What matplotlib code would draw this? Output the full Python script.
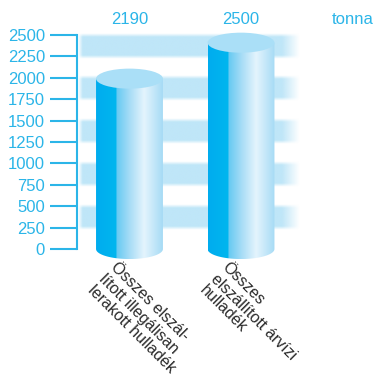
import numpy as np
import matplotlib.pyplot as plt
from matplotlib.colors import LinearSegmentedColormap, to_rgb
from matplotlib.patches import Polygon, Ellipse

plt.rcParams['font.family'] = ['Liberation Sans', 'DejaVu Sans']

# data
categories = ["Összes elszál-\nlított illegálisan\nlerakott hulladék",
              "Összes\nelszállított árvízi\nhulladék"]
value_labels = ["2190", "2500"]
bar_heights = [1990, 2410]          # drawn cylinder heights
yticks = [0, 250, 500, 750, 1000, 1250, 1500, 1750, 2000, 2250, 2500]
bands = [(250, 500), (750, 1000), (1250, 1500), (1750, 2000), (2250, 2500)]
unit = "tonna"

cyan = "#2bb5e8"
band_col = "#bfe6f8"

fig = plt.figure(figsize=(3.77, 3.74), dpi=100)
ax = fig.add_axes([0.2042, 0.2655, 0.7958, 0.6639])
ax.set_xlim(-0.4709, 2.2197)
ax.set_ylim(-300, 2600)

# soft horizontal bands
bx0, bx1 = -0.46, 1.53
for lo, hi in bands:
    ny, nx = 40, 300
    yy = np.linspace(0, 1, ny)
    xx = np.linspace(0, 1, nx)
    ay = np.clip(np.minimum(yy, 1 - yy) / 0.14, 0, 1)
    ax_ = np.clip(np.minimum(xx / 0.02, (1 - xx) / 0.08), 0, 1)
    alpha = ay[:, None] * ax_[None, :]
    img = np.zeros((ny, nx, 4))
    img[..., :3] = to_rgb(band_col)
    img[..., 3] = alpha
    pad = 25
    ax.imshow(img, extent=(bx0, bx1, lo - pad, hi + pad), aspect='auto',
              zorder=1, interpolation='bilinear')

# cylinders
grad = LinearSegmentedColormap.from_list("cyl", [
    (0.0, "#00acee"), (0.30, "#00b6ef"), (0.31, "#66caf2"),
    (0.50, "#a6dcf6"), (0.72, "#e4f4fd"), (1.0, "#a6dbf5")])
w = 0.60
eh = 234
t = np.linspace(np.pi, 2 * np.pi, 60)
for i, h in enumerate(bar_heights):
    x0, x1 = i - w / 2, i + w / 2
    bottom = np.column_stack([i + w / 2 * np.cos(t), eh / 2 * np.sin(t)])
    verts = np.vstack([bottom, [[x1, h], [x0, h]]])
    poly = Polygon(verts, closed=True, facecolor='none', edgecolor='none')
    ax.add_patch(poly)
    im = ax.imshow(np.linspace(0, 1, 256).reshape(1, -1), cmap=grad,
                   extent=(x0, x1, -eh / 2, h), aspect='auto', zorder=3)
    im.set_clip_path(poly)
    ax.add_patch(Ellipse((i, h), w, eh, facecolor="#aadff7",
                         edgecolor='none', zorder=4))
    ax.text(i, 2680, value_labels[i], color=cyan, fontsize=12,
            ha='center', va='center')
    ax.text(i - 0.1, -125, categories[i], rotation=-45, rotation_mode='anchor',
            ha='left', va='top', fontsize=11.5, color="#2b2b2b",
            linespacing=1.1, clip_on=False)

ax.text(1.81, 2680, unit, color=cyan, fontsize=12, ha='left', va='center')

# axis styling
for s in ['top', 'right', 'bottom']:
    ax.spines[s].set_visible(False)
ax.spines['left'].set_bounds(0, 2500)
ax.spines['left'].set_color(cyan)
ax.spines['left'].set_linewidth(1.5)
ax.set_xticks([])
ax.set_yticks(yticks)
ax.tick_params(axis='y', length=19.5, width=1.5, color=cyan,
               labelcolor=cyan, labelsize=12, pad=3.5)
ax.patch.set_visible(False)

fig.savefig("out.png", dpi=100)
